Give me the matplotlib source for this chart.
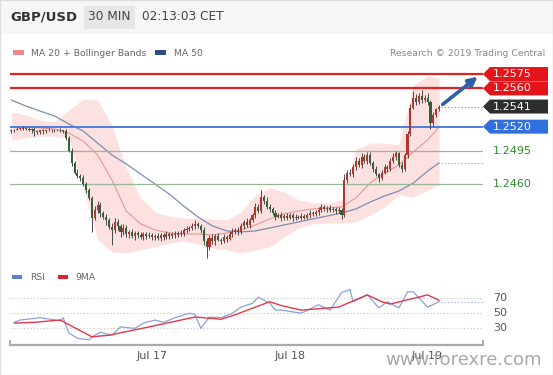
import numpy as np
import matplotlib.pyplot as plt
from matplotlib.patches import Polygon, Rectangle

W, H = 553, 375
fig = plt.figure(figsize=(W / 100, H / 100), dpi=100)
fig.patch.set_facecolor('white')


def fx(x):
    return x / W


def fy(y):
    return 1 - y / H


# price data, in pips above 1.2400 (30 min candles)
base = 1.2400
first_open = 115
close_pips = [116, 117, 118, 118, 119, 118, 117, 118, 115, 114,
              116, 115, 116, 117, 116, 116, 117, 116, 115, 108,
              95, 82, 72, 68, 66, 60, 54, 45, 25, 33,
              38, 30, 26, 22, 15, 12, 20, 16, 10, 14,
              8, 10, 6, 9, 7, 5, 8, 6, 7, 5,
              6, 4, 7, 5, 8, 6, 8, 7, 9, 8,
              12, 13, 14, 16, 18, 16, 12, 0, -6, 4,
              0, 6, 2, 0, 5, 3, 8, 10, 12, 10,
              16, 20, 17, 22, 28, 36, 32, 46, 42, 36,
              34, 30, 26, 28, 24, 27, 25, 28, 24, 26,
              25, 27, 25, 28, 30, 29, 31, 33, 36, 34,
              35, 33, 34, 32, 33, 28, 64, 72, 70, 78,
              84, 80, 88, 84, 90, 82, 76, 70, 66, 72,
              78, 76, 84, 88, 92, 80, 76, 90, 112, 140,
              150, 146, 152, 148, 150, 146, 124, 132, 138, 141]
wick_up = [2, 1, 2, 1, 2, 1, 2, 1, 2, 2,
           1, 2, 1, 2, 1, 2, 1, 2, 1, 3,
           2, 3, 2, 4, 2, 3, 2, 2, 3, 4,
           4, 3, 2, 3, 2, 4, 5, 3, 2, 4,
           3, 2, 3, 2, 2, 3, 2, 2, 3, 2,
           2, 3, 2, 2, 3, 2, 2, 3, 2, 3,
           2, 3, 2, 3, 4, 2, 2, 3, 4, 3,
           4, 2, 3, 2, 3, 2, 3, 4, 2, 3,
           3, 2, 4, 3, 2, 4, 3, 8, 3, 4,
           3, 2, 3, 2, 3, 2, 3, 2, 2, 3,
           2, 3, 2, 2, 3, 2, 2, 3, 3, 2,
           2, 3, 2, 2, 3, 2, 6, 3, 4, 3,
           4, 3, 4, 3, 4, 3, 2, 3, 2, 3,
           3, 2, 3, 4, 3, 2, 3, 2, 3, 4,
           7, 4, 3, 6, 3, 5, 2, 3, 2, 2]
wick_dn = [2, 2, 1, 2, 1, 2, 2, 4, 5, 2,
           2, 3, 2, 1, 2, 2, 1, 2, 2, 2,
           2, 3, 2, 2, 3, 2, 3, 2, 15, 3,
           3, 4, 3, 5, 2, 16, 3, 4, 5, 3,
           3, 4, 2, 4, 3, 2, 4, 3, 2, 4,
           3, 2, 4, 3, 2, 3, 2, 3, 2, 2,
           2, 3, 2, 2, 3, 2, 3, 4, 11, 3,
           3, 4, 2, 3, 2, 4, 2, 3, 2, 3,
           2, 3, 2, 3, 2, 3, 2, 2, 3, 2,
           3, 2, 4, 2, 3, 2, 3, 2, 3, 2,
           2, 3, 2, 2, 3, 2, 2, 3, 2, 2,
           3, 2, 2, 3, 2, 5, 2, 3, 2, 3,
           3, 2, 3, 2, 3, 2, 3, 2, 4, 2,
           2, 3, 2, 2, 3, 2, 3, 2, 3, 2,
           2, 3, 2, 3, 2, 3, 6, 3, 2, 2]

# indicator values read every 5 candles
band_idx = [0, 5, 10, 15, 20, 25, 30, 35, 40, 45, 50, 55, 60, 65, 70, 75,
            80, 85, 90, 95, 100, 105, 110, 115, 120, 125, 130, 135, 140, 145, 149]
ma20 = [119.6, 119.6, 118.6, 117.5, 113.3, 105, 90.4, 64.2, 31.8, 18.3, 12,
        8.8, 7.8, 7.8, 6.8, 8.8, 12, 17.2, 23.5, 28.7, 31.8, 33.9, 35, 36,
        45.4, 61.1, 71.5, 79.9, 93.5, 106, 119.6]
bb_upper = [135.3, 132.2, 126.9, 124.8, 137.4, 148.9, 147.8, 121.7, 76.8, 45.4,
            30.8, 26.6, 24.5, 24.5, 23.5, 22.4, 30.8, 48.6, 55.9, 51.7, 43.3,
            40.2, 40.2, 43.3, 95.6, 102.9, 102.9, 100.8, 163.5, 172.9, 170.8]
bb_lower = [106, 108.1, 110.2, 110.2, 108, 56, 2, -11, -12, -8.9, -5.8, -1.6,
            0.5, -2.7, -6.8, -8.9, -12, -8.9, -5.8, 4.7, 14.1, 18.3, 19.3, 19.3,
            20.3, 27.7, 36, 48.6, 46.5, 53.8, 60]
ma50 = [147.8, 141.6, 136.3, 131.1, 122.8, 115.4, 102.9, 90.4, 81, 70.5, 60,
        49.6, 37, 25.6, 16.2, 11, 9.9, 11, 14, 17.2, 20.3, 23.5, 26.6, 29.7,
        33.9, 41.2, 47.5, 52.7, 61, 73.6, 82]

# RSI panel
rsi_idx = [1, 3, 10, 17, 18, 20, 23, 27, 29, 31, 35, 38, 43, 46, 50, 53, 57,
           62, 64, 66, 69, 73, 77, 80, 84, 86, 90, 92, 94, 101, 107, 111, 115,
           118, 119, 124, 128, 131, 135, 138, 140, 145, 149]
rsi_val = [38, 41, 44, 40, 44, 24, 17, 15, 21, 25, 21, 32, 30, 37, 41, 38, 44,
           50, 48, 30, 45, 44, 50, 58, 63, 71, 63, 54, 54, 50, 61, 54, 77,
           81, 65, 74, 57, 65, 57, 78, 78, 58, 65]
ma9_idx = [1, 8, 17, 28, 34, 48, 64, 73, 78, 90, 94, 101, 114, 124, 129, 132, 145, 149]
ma9_val = [37, 38, 41, 19, 21, 32, 45, 42, 48, 65, 60, 54, 58, 74, 65, 62, 74, 67]
rsi_levels = [70, 50, 30]

day_pos = [49, 97, 145]
day_labels = ['Jul 17', 'Jul 18', 'Jul 19']

resistance = [1.2575, 1.2560]
pivot = 1.2520
support = [1.2495, 1.2460]
last_price = 1.2541

up_col = '#b8332d'
dn_col = '#35603a'

# header
fig.patches.append(Rectangle((0, fy(34)), 1, 34 / H, transform=fig.transFigure,
                             facecolor='#f6f6f6', edgecolor='none'))
fig.patches.append(Rectangle((fx(84), fy(29)), 51 / W, 23 / H, transform=fig.transFigure,
                             facecolor='#e6e6e6', edgecolor='none'))
fig.text(fx(10), fy(17), 'GBP/USD', fontsize=9.5, fontweight='bold', color='#333333', va='center')
fig.text(fx(109.5), fy(17), '30 MIN', fontsize=8.7, color='#444444', va='center', ha='center')
fig.text(fx(142), fy(17), '02:13:03 CET', fontsize=8.7, color='#444444', va='center')

# legend line
fig.patches.append(Rectangle((fx(13), fy(54.5)), 11 / W, 4 / H, transform=fig.transFigure,
                             facecolor='#f08a8a', edgecolor='none'))
fig.text(fx(31), fy(53), 'MA 20 + Bollinger Bands', fontsize=6.7, color='#666666', va='center')
fig.patches.append(Rectangle((fx(155), fy(54.5)), 11 / W, 4 / H, transform=fig.transFigure,
                             facecolor='#2c4e86', edgecolor='none'))
fig.text(fx(174), fy(53), 'MA 50', fontsize=6.7, color='#666666', va='center')
fig.text(fx(545), fy(53), 'Research \u00a9 2019 Trading Central', fontsize=6.7,
         color='#888888', va='center', ha='right')

# price panel
ax = fig.add_axes([fx(10), fy(264), 473 / W, 200 / H])
ax.set_xlim(-0.5, 164.3)
ax.set_ylim(1.23764, 1.25855)
ax.axis('off')

px = lambda a: base + np.array(a, dtype=float) / 10000
c = px(close_pips)
o = np.r_[px([first_open]), c[:-1]]
hi = np.maximum(o, c) + np.array(wick_up) / 10000
lo = np.minimum(o, c) - np.array(wick_dn) / 10000
idx = np.arange(len(c))

ax.fill_between(band_idx, px(bb_lower), px(bb_upper), color='#fde0e0', lw=0, zorder=1)
ax.plot(band_idx, px(ma20), color='#e39898', lw=0.8, zorder=2)
ax.plot(band_idx, px(ma50), color='#7d8db3', lw=0.9, zorder=2)

for lv in resistance:
    ax.axhline(lv, color='#e02424', lw=1.6, zorder=3)
ax.axhline(pivot, color='#4c7fe0', lw=1.4, zorder=3)
for lv in support:
    ax.axhline(lv, color='#96b893', lw=0.9, zorder=3)

up = c >= o
cols = np.where(up, up_col, dn_col)
body = np.where(np.abs(c - o) < 0.00004, 0.00004, c - o)
ax.vlines(idx, lo, hi, color='#4a4a4a', lw=0.7, zorder=4)
ax.bar(idx, body, bottom=o, width=0.72, color=cols, lw=0, zorder=5)

ax.hlines(last_price, idx[-1] + 0.8, 164.3, colors='#888888', linestyles=(0, (1, 2)), lw=0.8)
ax.hlines(px([ma50[-1]])[0], idx[-1] + 0.8, 164.3, colors='#8a9cc0', linestyles=(0, (1, 2)), lw=0.8)

ax.annotate('', xy=(163.2, 1.25740), xytext=(idx[-1] + 0.5, 1.25415),
            arrowprops=dict(arrowstyle='-|>', color='#2b5fa8', lw=2.6, mutation_scale=13),
            annotation_clip=False, zorder=6)

# price tags on the right
fig.canvas.draw()


def tag(level, face, text_col):
    yd = ax.transData.transform((0, level))[1]
    if face is not None:
        fig.patches.append(Polygon([(fx(483), yd / H), (fx(490), (yd + 7) / H), (fx(548), (yd + 7) / H),
                                    (fx(548), (yd - 7) / H), (fx(490), (yd - 7) / H)],
                                   closed=True, transform=fig.transFigure,
                                   facecolor=face, edgecolor='none'))
    fig.text(fx(493), yd / H, '%.4f' % level, fontsize=8, color=text_col, va='center', ha='left')


for lv in resistance:
    tag(lv, '#e5141b', 'white')
tag(last_price, '#2e2e2e', 'white')
tag(pivot, '#2f6fe0', 'white')
for lv in support:
    tag(lv, None, '#2e8b2e')

# RSI panel
axr = fig.add_axes([fx(10), fy(345), 473 / W, 60 / H])
axr.set_xlim(-0.5, 164.3)
axr.set_ylim(8.2, 87)
for s in ['top', 'left', 'right']:
    axr.spines[s].set_visible(False)
axr.spines['bottom'].set_color('#aaaaaa')
axr.spines['bottom'].set_linewidth(1.6)
axr.set_yticks([])
axr.set_xticks(day_pos)
axr.set_xticklabels(day_labels)
axr.tick_params(axis='x', length=0, pad=4, labelsize=8, colors='#555555')
for xe in [0, 1]:
    axr.plot([xe, xe], [0, 0.07], transform=axr.transAxes, color='#aaaaaa', lw=1.4, clip_on=False)

for v in rsi_levels:
    axr.axhline(v, color='#c4c4c4', ls=(0, (1, 2)), lw=0.8)
    axr.text(1.021, v, str(v), transform=axr.get_yaxis_transform(), fontsize=8,
             color='#555555', va='center', ha='left')
axr.plot(rsi_idx, rsi_val, color='#8aa2db', lw=0.9)
axr.plot(ma9_idx, ma9_val, color='#e03a4a', lw=1.0)
axr.hlines(rsi_val[-1], rsi_idx[-1] + 0.8, 164.3, colors='#8fa6dd', linestyles=(0, (1, 2)), lw=0.8)

fig.patches.append(Rectangle((fx(12), fy(279)), 10 / W, 4 / H, transform=fig.transFigure,
                             facecolor='#5b7fd0', edgecolor='none'))
fig.text(fx(30), fy(277), 'RSI', fontsize=6.7, color='#666666', va='center')
fig.patches.append(Rectangle((fx(58), fy(279)), 10 / W, 4 / H, transform=fig.transFigure,
                             facecolor='#e0202a', edgecolor='none'))
fig.text(fx(75), fy(277), '9MA', fontsize=6.7, color='#666666', va='center')

fig.text(fx(463), fy(360), 'www.forexre.com', fontsize=13, color='#9a9a9a',
         alpha=0.85, ha='center', va='center')

fig.patches.append(Rectangle((0, 0), 1, 1, transform=fig.transFigure,
                             facecolor='none', edgecolor='#dddddd', lw=1))

plt.savefig('out.png', dpi=100)
